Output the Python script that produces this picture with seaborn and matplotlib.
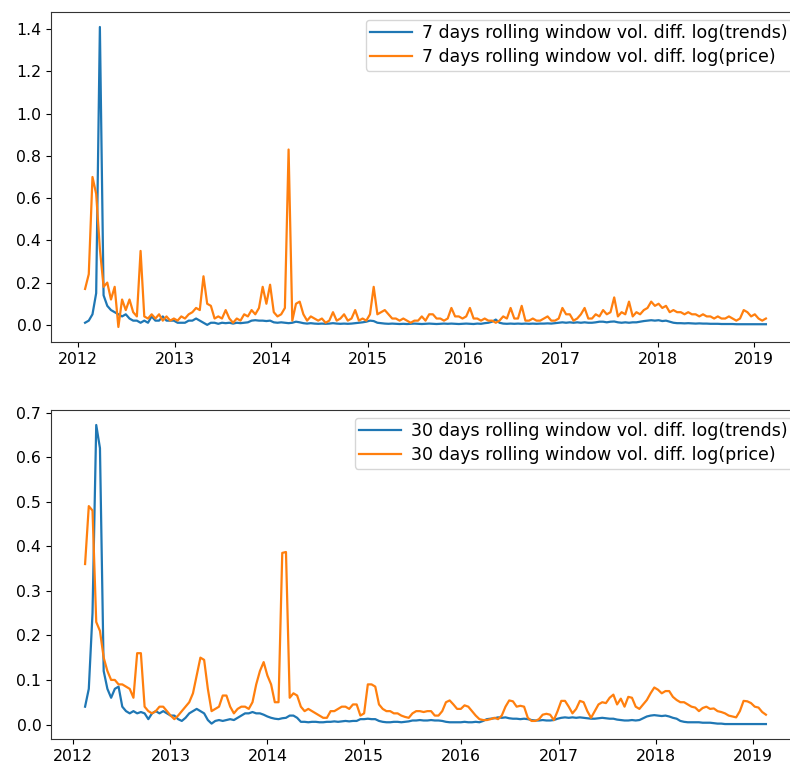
import matplotlib
matplotlib.use("Agg")
import matplotlib.pyplot as plt
import seaborn as sns
import pandas as pd

# 7-day rolling volatility of differenced logs, sampled every 14 days
short_start = "2012-01-27"
short_trends = [
    0.01, 0.02, 0.05, 0.15, 1.41, 0.14, 0.09, 0.07, 0.06, 0.05,
    0.04, 0.05, 0.03, 0.02, 0.02, 0.01, 0.02, 0.01, 0.04, 0.02,
    0.02, 0.04, 0.02, 0.02, 0.02, 0.01, 0.01, 0.01, 0.02, 0.02,
    0.03, 0.02, 0.01, 0.00, 0.01, 0.01, 0.005, 0.01, 0.008, 0.01,
    0.006, 0.01, 0.008, 0.01, 0.012, 0.02, 0.022, 0.02, 0.02, 0.018,
    0.02, 0.012, 0.01, 0.012, 0.01, 0.008, 0.01, 0.015, 0.012, 0.008,
    0.006, 0.008, 0.006, 0.005, 0.006, 0.005, 0.006, 0.008, 0.006, 0.005,
    0.006, 0.005, 0.006, 0.008, 0.01, 0.012, 0.015, 0.02, 0.018, 0.01,
    0.008, 0.006, 0.005, 0.006, 0.005, 0.004, 0.005, 0.004, 0.005, 0.006,
    0.005, 0.004, 0.005, 0.006, 0.005, 0.004, 0.005, 0.006, 0.005, 0.006,
    0.005, 0.004, 0.005, 0.006, 0.005, 0.004, 0.006, 0.005, 0.008, 0.01,
    0.015, 0.025, 0.01, 0.006, 0.005, 0.006, 0.005, 0.006, 0.005, 0.006,
    0.005, 0.006, 0.005, 0.006, 0.006, 0.007, 0.006, 0.008, 0.01, 0.012,
    0.01, 0.012, 0.01, 0.012, 0.01, 0.012, 0.01, 0.01, 0.012, 0.015,
    0.015, 0.012, 0.015, 0.016, 0.012, 0.01, 0.012, 0.01, 0.012, 0.012,
    0.015, 0.018, 0.02, 0.022, 0.02, 0.022, 0.018, 0.02, 0.015, 0.01,
    0.008, 0.008, 0.007, 0.008, 0.007, 0.006, 0.007, 0.006, 0.006, 0.005,
    0.005, 0.005, 0.004, 0.004, 0.004, 0.004, 0.003, 0.003, 0.003, 0.003,
    0.003, 0.003, 0.003, 0.003, 0.003,
]
short_price = [
    0.17, 0.24, 0.70, 0.62, 0.36, 0.18, 0.20, 0.12, 0.18, -0.01,
    0.12, 0.07, 0.12, 0.06, 0.04, 0.35, 0.04, 0.03, 0.05, 0.03,
    0.05, 0.02, 0.04, 0.02, 0.03, 0.02, 0.04, 0.03, 0.05, 0.06,
    0.08, 0.07, 0.23, 0.10, 0.09, 0.03, 0.04, 0.03, 0.07, 0.03,
    0.01, 0.03, 0.02, 0.05, 0.04, 0.07, 0.05, 0.08, 0.18, 0.10,
    0.19, 0.06, 0.04, 0.05, 0.08, 0.83, 0.02, 0.10, 0.11, 0.05,
    0.02, 0.04, 0.03, 0.02, 0.03, 0.01, 0.02, 0.06, 0.02, 0.03,
    0.05, 0.02, 0.03, 0.07, 0.02, 0.03, 0.02, 0.05, 0.18, 0.05,
    0.06, 0.07, 0.05, 0.03, 0.03, 0.02, 0.03, 0.02, 0.01, 0.02,
    0.02, 0.04, 0.02, 0.05, 0.05, 0.03, 0.03, 0.02, 0.03, 0.08,
    0.04, 0.04, 0.03, 0.04, 0.08, 0.03, 0.03, 0.02, 0.03, 0.02,
    0.02, 0.01, 0.02, 0.04, 0.03, 0.08, 0.03, 0.03, 0.09, 0.02,
    0.02, 0.03, 0.02, 0.02, 0.03, 0.04, 0.02, 0.02, 0.03, 0.08,
    0.05, 0.05, 0.02, 0.03, 0.05, 0.08, 0.03, 0.03, 0.05, 0.04,
    0.07, 0.05, 0.06, 0.13, 0.04, 0.06, 0.05, 0.11, 0.04, 0.06,
    0.05, 0.07, 0.08, 0.11, 0.09, 0.10, 0.08, 0.09, 0.06, 0.07,
    0.06, 0.06, 0.05, 0.06, 0.05, 0.05, 0.04, 0.05, 0.04, 0.04,
    0.03, 0.04, 0.03, 0.03, 0.04, 0.03, 0.02, 0.03, 0.07, 0.06,
    0.04, 0.05, 0.03, 0.02, 0.03,
]

# 30-day rolling volatility of differenced logs, sampled every 14 days
long_start = "2012-02-15"
long_trends = [
    0.04, 0.08, 0.25, 0.672, 0.62, 0.12, 0.08, 0.06, 0.08, 0.085,
    0.04, 0.03, 0.025, 0.03, 0.025, 0.028, 0.025, 0.012, 0.025, 0.03,
    0.025, 0.03, 0.025, 0.02, 0.02, 0.012, 0.008, 0.015, 0.025, 0.03,
    0.035, 0.03, 0.025, 0.01, 0.002, 0.008, 0.01, 0.008, 0.01, 0.012,
    0.01, 0.015, 0.02, 0.025, 0.025, 0.028, 0.025, 0.025, 0.022, 0.018,
    0.015, 0.013, 0.012, 0.014, 0.015, 0.02, 0.02, 0.015, 0.006, 0.006,
    0.005, 0.006, 0.006, 0.005, 0.005, 0.006, 0.006, 0.007, 0.006, 0.007,
    0.008, 0.007, 0.008, 0.008, 0.012, 0.012, 0.013, 0.012, 0.012, 0.008,
    0.006, 0.005, 0.005, 0.006, 0.006, 0.005, 0.006, 0.007, 0.009, 0.009,
    0.01, 0.009, 0.009, 0.01, 0.009, 0.009, 0.008, 0.006, 0.005, 0.005,
    0.005, 0.005, 0.006, 0.005, 0.005, 0.006, 0.005, 0.008, 0.012, 0.013,
    0.014, 0.016, 0.015, 0.016, 0.014, 0.013, 0.013, 0.012, 0.013, 0.012,
    0.01, 0.009, 0.009, 0.01, 0.009, 0.009, 0.01, 0.013, 0.015, 0.016,
    0.015, 0.016, 0.015, 0.016, 0.015, 0.014, 0.013, 0.013, 0.014, 0.015,
    0.014, 0.013, 0.013, 0.011, 0.01, 0.009, 0.009, 0.01, 0.009, 0.01,
    0.014, 0.018, 0.02, 0.021, 0.02, 0.019, 0.02, 0.018, 0.015, 0.013,
    0.008, 0.006, 0.005, 0.005, 0.005, 0.005, 0.004, 0.004, 0.004, 0.003,
    0.002, 0.002, 0.001, 0.001, 0.001, 0.001, 0.001, 0.001, 0.001, 0.001,
    0.001, 0.001, 0.001, 0.001,
]
long_price = [
    0.36, 0.49, 0.48, 0.23, 0.21, 0.15, 0.12, 0.10, 0.10, 0.09,
    0.09, 0.085, 0.08, 0.06, 0.16, 0.16, 0.04, 0.03, 0.025, 0.03,
    0.04, 0.04, 0.03, 0.02, 0.012, 0.02, 0.03, 0.04, 0.05, 0.07,
    0.11, 0.15, 0.145, 0.08, 0.03, 0.035, 0.04, 0.065, 0.065, 0.04,
    0.025, 0.035, 0.04, 0.04, 0.035, 0.05, 0.09, 0.12, 0.14, 0.11,
    0.09, 0.05, 0.05, 0.385, 0.387, 0.06, 0.07, 0.065, 0.04, 0.03,
    0.035, 0.03, 0.025, 0.02, 0.015, 0.015, 0.03, 0.03, 0.035, 0.04,
    0.04, 0.035, 0.045, 0.045, 0.02, 0.025, 0.09, 0.09, 0.085, 0.045,
    0.035, 0.03, 0.03, 0.025, 0.025, 0.02, 0.017, 0.015, 0.025, 0.03,
    0.03, 0.028, 0.03, 0.03, 0.02, 0.02, 0.03, 0.05, 0.054, 0.045,
    0.035, 0.035, 0.043, 0.04, 0.03, 0.02, 0.012, 0.01, 0.01, 0.012,
    0.015, 0.012, 0.02, 0.04, 0.054, 0.052, 0.04, 0.042, 0.04, 0.015,
    0.008, 0.008, 0.012, 0.022, 0.024, 0.022, 0.01, 0.03, 0.053, 0.053,
    0.04, 0.025, 0.035, 0.053, 0.05, 0.03, 0.015, 0.03, 0.045, 0.05,
    0.048, 0.06, 0.067, 0.045, 0.058, 0.04, 0.062, 0.06, 0.04, 0.035,
    0.045, 0.055, 0.07, 0.083, 0.078, 0.07, 0.075, 0.075, 0.062, 0.055,
    0.05, 0.05, 0.045, 0.04, 0.038, 0.03, 0.037, 0.04, 0.035, 0.036,
    0.03, 0.028, 0.025, 0.02, 0.018, 0.016, 0.03, 0.053, 0.052, 0.048,
    0.04, 0.038, 0.028, 0.022,
]

labels_short = ["7 days rolling window vol. diff. log(trends)",
                "7 days rolling window vol. diff. log(price)"]
labels_long = ["30 days rolling window vol. diff. log(trends)",
               "30 days rolling window vol. diff. log(price)"]

short_dates = pd.date_range(short_start, periods=len(short_price), freq="14D")
long_dates = pd.date_range(long_start, periods=len(long_price), freq="14D")

blue, orange = "#1f77b4", "#ff7f0e"

fig = plt.figure(figsize=(7.9, 7.69), dpi=100)
ax1 = fig.add_axes([0.0646, 0.5553, 0.948, 0.4291])
ax2 = fig.add_axes([0.0646, 0.0390, 0.948, 0.4278])

sns.lineplot(x=short_dates, y=short_trends, ax=ax1, color=blue,
             label=labels_short[0], linewidth=1.6)
sns.lineplot(x=short_dates, y=short_price, ax=ax1, color=orange,
             label=labels_short[1], linewidth=1.6)
sns.lineplot(x=long_dates, y=long_trends, ax=ax2, color=blue,
             label=labels_long[0], linewidth=1.6)
sns.lineplot(x=long_dates, y=long_price, ax=ax2, color=orange,
             label=labels_long[1], linewidth=1.6)

for ax in (ax1, ax2):
    ax.legend(loc="upper right", fontsize=12.5, labelspacing=0.36,
              borderpad=0.25, handlelength=2.4, handletextpad=0.6,
              borderaxespad=0.45)
    ax.set_xlabel("")
    ax.set_ylabel("")
    ax.tick_params(labelsize=11.3)
    for s in ax.spines.values():
        s.set_color("#333333")

fig.savefig("out.png", dpi=100)
